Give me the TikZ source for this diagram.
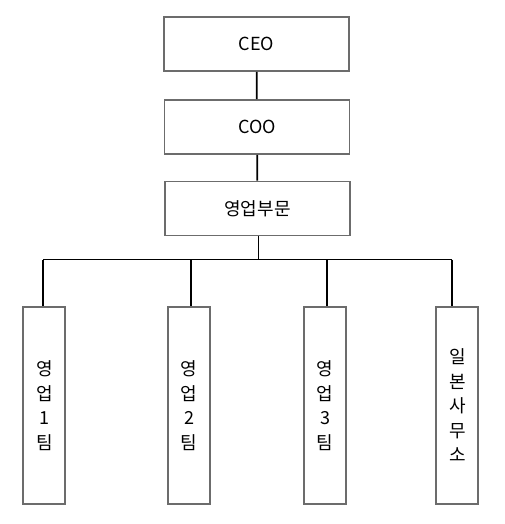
\documentclass[tikz,border=0pt]{standalone}
\usepackage{fontspec}
\setmainfont{Noto Sans CJK KR}
\usetikzlibrary{positioning}
\definecolor{boxgray}{RGB}{108,108,108}

\begin{document}
\begin{tikzpicture}[x=1pt,y=-1pt,
	box/.style={draw=boxgray, line width=1.8pt, fill=white, inner sep=0pt,
		font=\fontsize{18}{24.5}\selectfont},
	headbox/.style={box, minimum width=185pt, minimum height=54pt},
	teambox/.style={box, minimum width=42pt, minimum height=197pt, align=center},
	link/.style={line width=1.8pt}]
	\useasboundingbox (0,0) rectangle (505,524);
	\node (ceo) at (256.5,44) [headbox] {CEO};
	\node (coo) at (257,127) [headbox] {COO};
	\node (sales) at (257.5,208.5) [headbox] {영업부문};
	\node (t1) at (44.3,405.5) [teambox] {영\\업\\1\\팀};
	\node (t2) at (189,405.5) [teambox] {영\\업\\2\\팀};
	\node (t3) at (325,405.5) [teambox] {영\\업\\3\\팀};
	\node (jp) at (457.3,405.5) [teambox] {일\\본\\사\\무\\소};
	\coordinate (bus) at (258.5,259.5);
	\coordinate (b1) at (43,259.5);
	\coordinate (b2) at (191,259.5);
	\coordinate (b3) at (327,259.5);
	\coordinate (b4) at (452,259.5);
	\draw [link](ceo)--(coo);
	\draw [link](coo)--(sales);
	\draw [link](sales.south-|bus)--(bus);
	\draw [link](b1)--(b4);
	\draw [link](b1)--(b1|-t1.north);
	\draw [link](b2)--(b2|-t2.north);
	\draw [link](b3)--(b3|-t3.north);
	\draw [link](b4)--(b4|-jp.north);
	
	\end{tikzpicture}
\end{document}
